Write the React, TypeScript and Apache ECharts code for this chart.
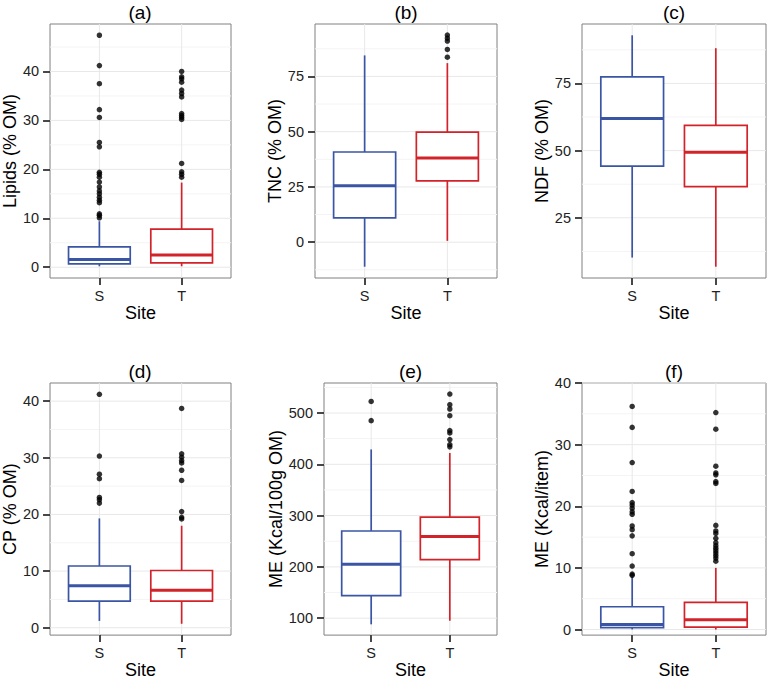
import React, { useEffect, useRef } from "react";
import * as echarts from "echarts";

const sites = ["S", "T"];
const siteColors = ["#3B55A5", "#D2232A"];

// box stats: [lower whisker, Q1, median, Q3, upper whisker]
const lipidsS = [0.2, 0.67, 1.6, 4.15, 9.4];
const lipidsT = [0.2, 0.9, 2.5, 7.8, 17.3];
const lipidsOutS = [47.4, 41.2, 37.5, 32.2, 30.6, 25.5, 24.6, 19.4, 19.0, 18.4, 17.4, 16.4, 15.6, 15.0, 14.3, 13.7, 13.2, 10.9, 10.6, 10.1];
const lipidsOutT = [40.0, 38.9, 38.5, 37.8, 36.2, 35.5, 34.8, 31.4, 31.0, 30.6, 30.2, 21.2, 19.5, 19.0, 18.4];
const lipidsTicks = [0, 10, 20, 30, 40];
const lipidsMinor = [5, 15, 25, 35, 45];

const tncS = [-11.1, 11.0, 25.5, 40.8, 84.5];
const tncT = [0.6, 27.7, 38.1, 49.8, 81.0];
const tncOutS: number[] = [];
const tncOutT = [83.7, 87.2, 91.0, 92.3, 93.7];
const tncTicks = [0, 25, 50, 75];
const tncMinor = [-12.5, 12.5, 37.5, 62.5, 87.5];

const ndfS = [10.2, 44.2, 61.9, 77.4, 92.9];
const ndfT = [6.8, 36.6, 49.4, 59.4, 88.1];
const ndfOutS: number[] = [];
const ndfOutT: number[] = [];
const ndfTicks = [25, 50, 75];
const ndfMinor = [12.5, 37.5, 62.5, 87.5];

const cpS = [1.2, 4.7, 7.4, 10.9, 19.3];
const cpT = [0.7, 4.7, 6.6, 10.1, 18.0];
const cpOutS = [41.2, 30.3, 27.1, 26.3, 23.0, 22.6, 22.0];
const cpOutT = [38.7, 30.7, 30.1, 29.5, 29.1, 27.8, 26.0, 20.5, 19.5, 19.2];
const cpTicks = [0, 10, 20, 30, 40];
const cpMinor = [5, 15, 25, 35];

const meS = [88, 144, 205, 270, 429];
const meT = [95, 214, 259, 297, 422];
const meOutS = [522.6, 485.1];
const meOutT = [536.9, 516.2, 507.8, 494.8, 465.7, 461.2, 448.2, 438.5, 434.0];
const meTicks = [100, 200, 300, 400, 500];
const meMinor = [150, 250, 350, 450, 550];

const meItemS = [0.02, 0.3, 0.8, 3.7, 8.5];
const meItemT = [0.0, 0.4, 1.6, 4.4, 10.0];
const meItemOutS = [36.2, 32.8, 27.1, 22.4, 20.6, 20.2, 19.7, 19.1, 18.7, 16.8, 16.2, 15.2, 12.3, 10.3, 9.0, 8.8];
const meItemOutT = [35.2, 32.5, 26.5, 25.4, 25.1, 24.0, 23.7, 16.9, 16.0, 15.6, 14.8, 14.1, 13.6, 13.2, 12.8, 12.4, 12.0, 11.6, 11.1];
const meItemTicks = [0, 10, 20, 30, 40];
const meItemMinor = [5, 15, 25, 35];

const panels = [
  { title: "(a)", yName: "Lipids (% OM)", box: [lipidsS, lipidsT], out: [lipidsOutS, lipidsOutT], yMin: -2.2, yMax: 49.7, major: lipidsTicks, minor: lipidsMinor },
  { title: "(b)", yName: "TNC (% OM)", box: [tncS, tncT], out: [tncOutS, tncOutT], yMin: -16.2, yMax: 98.7, major: tncTicks, minor: tncMinor },
  { title: "(c)", yName: "NDF (% OM)", box: [ndfS, ndfT], out: [ndfOutS, ndfOutT], yMin: 2.6, yMax: 97.1, major: ndfTicks, minor: ndfMinor },
  { title: "(d)", yName: "CP (% OM)", box: [cpS, cpT], out: [cpOutS, cpOutT], yMin: -1.3, yMax: 43.2, major: cpTicks, minor: cpMinor },
  { title: "(e)", yName: "ME (Kcal/100g OM)", box: [meS, meT], out: [meOutS, meOutT], yMin: 67, yMax: 558.5, major: meTicks, minor: meMinor },
  { title: "(f)", yName: "ME (Kcal/item)", box: [meItemS, meItemT], out: [meItemOutS, meItemOutT], yMin: -0.9, yMax: 40, major: meItemTicks, minor: meItemMinor },
];

const layouts = [
  { left: 49, top: 24, width: 182, height: 254, nameGap: 27 },
  { left: 315, top: 24, width: 182, height: 254, nameGap: 24 },
  { left: 582, top: 24, width: 184, height: 254, nameGap: 27 },
  { left: 49, top: 383, width: 182, height: 253, nameGap: 27 },
  { left: 324, top: 383, width: 173, height: 253, nameGap: 36 },
  { left: 582, top: 383, width: 184, height: 254, nameGap: 27 },
];

const FONT = "'Liberation Sans', Arial, Helvetica, sans-serif";
const BOX_HALF = 0.375;
const BORDER = "#808080";
const TICK_LEN = 7;
const TICK_COLOR = "#333333";

export default function App() {
  const ref = useRef<HTMLDivElement>(null);
  useEffect(() => {
    if (!ref.current) return;
    const chart = echarts.init(ref.current, null, { renderer: "svg" });

    const grid: any[] = [];
    const xAxis: any[] = [];
    const yAxis: any[] = [];
    const series: any[] = [];
    const graphic: any[] = [];

    panels.forEach((p, i) => {
      const L = layouts[i];
      grid.push({
        left: L.left, top: L.top, width: L.width, height: L.height,
        show: true, backgroundColor: "#ffffff", borderColor: BORDER, borderWidth: 1,
      });
      xAxis.push({
        gridIndex: i, type: "value", min: 0.4, max: 2.6, position: "bottom",
        splitLine: { show: false },
        axisLine: { show: false, onZero: false },
        axisTick: { show: true, length: TICK_LEN, customValues: [1, 2], lineStyle: { color: TICK_COLOR, width: 1.8 } },
        axisLabel: { customValues: [1, 2], formatter: (v: number) => sites[Math.round(v) - 1] || "", color: "#222", fontSize: 14.5, margin: 10, fontFamily: FONT },
        name: "Site", nameLocation: "middle", nameGap: 25,
        nameTextStyle: { fontSize: 18, color: "#000", fontFamily: FONT },
      });
      yAxis.push({
        gridIndex: i, type: "value", min: p.yMin, max: p.yMax, position: "left",
        splitLine: { show: false },
        axisLine: { show: false, onZero: false },
        axisTick: { show: true, length: TICK_LEN, customValues: p.major, lineStyle: { color: TICK_COLOR, width: 1.8 } },
        axisLabel: { customValues: p.major, color: "#222", fontSize: 14.5, margin: 11, fontFamily: FONT },
        name: p.yName, nameLocation: "middle", nameGap: L.nameGap,
        nameTextStyle: { fontSize: 18, color: "#000", fontFamily: FONT },
      });

      // gridlines: [value, orientation (0 = horizontal / y, 1 = vertical / x), kind (0 major, 1 minor)]
      const gridData: number[][] = [
        ...p.major.map((v) => [v, 0, 0]),
        ...p.minor.map((v) => [v, 0, 1]),
        [1, 1, 0],
        [2, 1, 0],
      ];
      const yMin = p.yMin;
      series.push({
        type: "custom", xAxisIndex: i, yAxisIndex: i, z: 1, silent: true,
        data: gridData,
        encode: { x: 0, y: 1 },
        renderItem: (params: any, api: any) => {
          const cs = params.coordSys;
          const v = api.value(0);
          const orient = api.value(1);
          const kind = api.value(2);
          const stroke = kind ? "#f4f4f4" : "#e8e8e8";
          if (orient === 0) {
            const py = api.coord([1, v])[1];
            return { type: "line", shape: { x1: cs.x, y1: py, x2: cs.x + cs.width, y2: py }, style: { stroke, lineWidth: 1 } };
          }
          const px = api.coord([v, yMin])[0];
          return { type: "line", shape: { x1: px, y1: cs.y, x2: px, y2: cs.y + cs.height }, style: { stroke, lineWidth: 1 } };
        },
      });

      series.push({
        type: "custom", xAxisIndex: i, yAxisIndex: i, z: 2, silent: true,
        data: p.box.map((b, j) => [j + 1, ...b]),
        encode: { x: 0, y: [1, 2, 3, 4, 5] },
        renderItem: (_params: any, api: any) => {
          const x = api.value(0);
          const c = siteColors[x - 1];
          const lo = api.coord([x, api.value(1)]);
          const q1 = api.coord([x, api.value(2)]);
          const md = api.coord([x, api.value(3)]);
          const q3 = api.coord([x, api.value(4)]);
          const hi = api.coord([x, api.value(5)]);
          const left = api.coord([x - BOX_HALF, 0])[0];
          const right = api.coord([x + BOX_HALF, 0])[0];
          return {
            type: "group",
            children: [
              { type: "line", shape: { x1: lo[0], y1: lo[1], x2: q1[0], y2: q1[1] }, style: { stroke: c, lineWidth: 1.7 } },
              { type: "line", shape: { x1: q3[0], y1: q3[1], x2: hi[0], y2: hi[1] }, style: { stroke: c, lineWidth: 1.7 } },
              { type: "rect", shape: { x: left, y: q3[1], width: right - left, height: q1[1] - q3[1] }, style: { fill: "#ffffff", stroke: c, lineWidth: 1.7 } },
              { type: "line", shape: { x1: left, y1: md[1], x2: right, y2: md[1] }, style: { stroke: c, lineWidth: 3 } },
            ],
          };
        },
      });

      series.push({
        type: "scatter", xAxisIndex: i, yAxisIndex: i, z: 3, silent: true,
        symbol: "circle", symbolSize: 5.5,
        itemStyle: { color: "#000" },
        data: p.out.flatMap((arr, j) => arr.map((v) => [j + 1, v])),
      });

      graphic.push({
        type: "text",
        x: L.left + L.width / 2,
        y: L.top - 12,
        style: {
          text: p.title, fill: "#000", font: `19px ${FONT}`,
          textAlign: "center", textVerticalAlign: "middle",
          align: "center", verticalAlign: "middle",
        },
      });
    });

    chart.setOption({
      animation: false,
      backgroundColor: "#ffffff",
      textStyle: { fontFamily: FONT },
      grid, xAxis, yAxis, series, graphic,
    });
    return () => chart.dispose();
  }, []);

  return <div ref={ref} style={{ position: "absolute", left: 0, top: 0, width: 768, height: 680 }} />;
}
